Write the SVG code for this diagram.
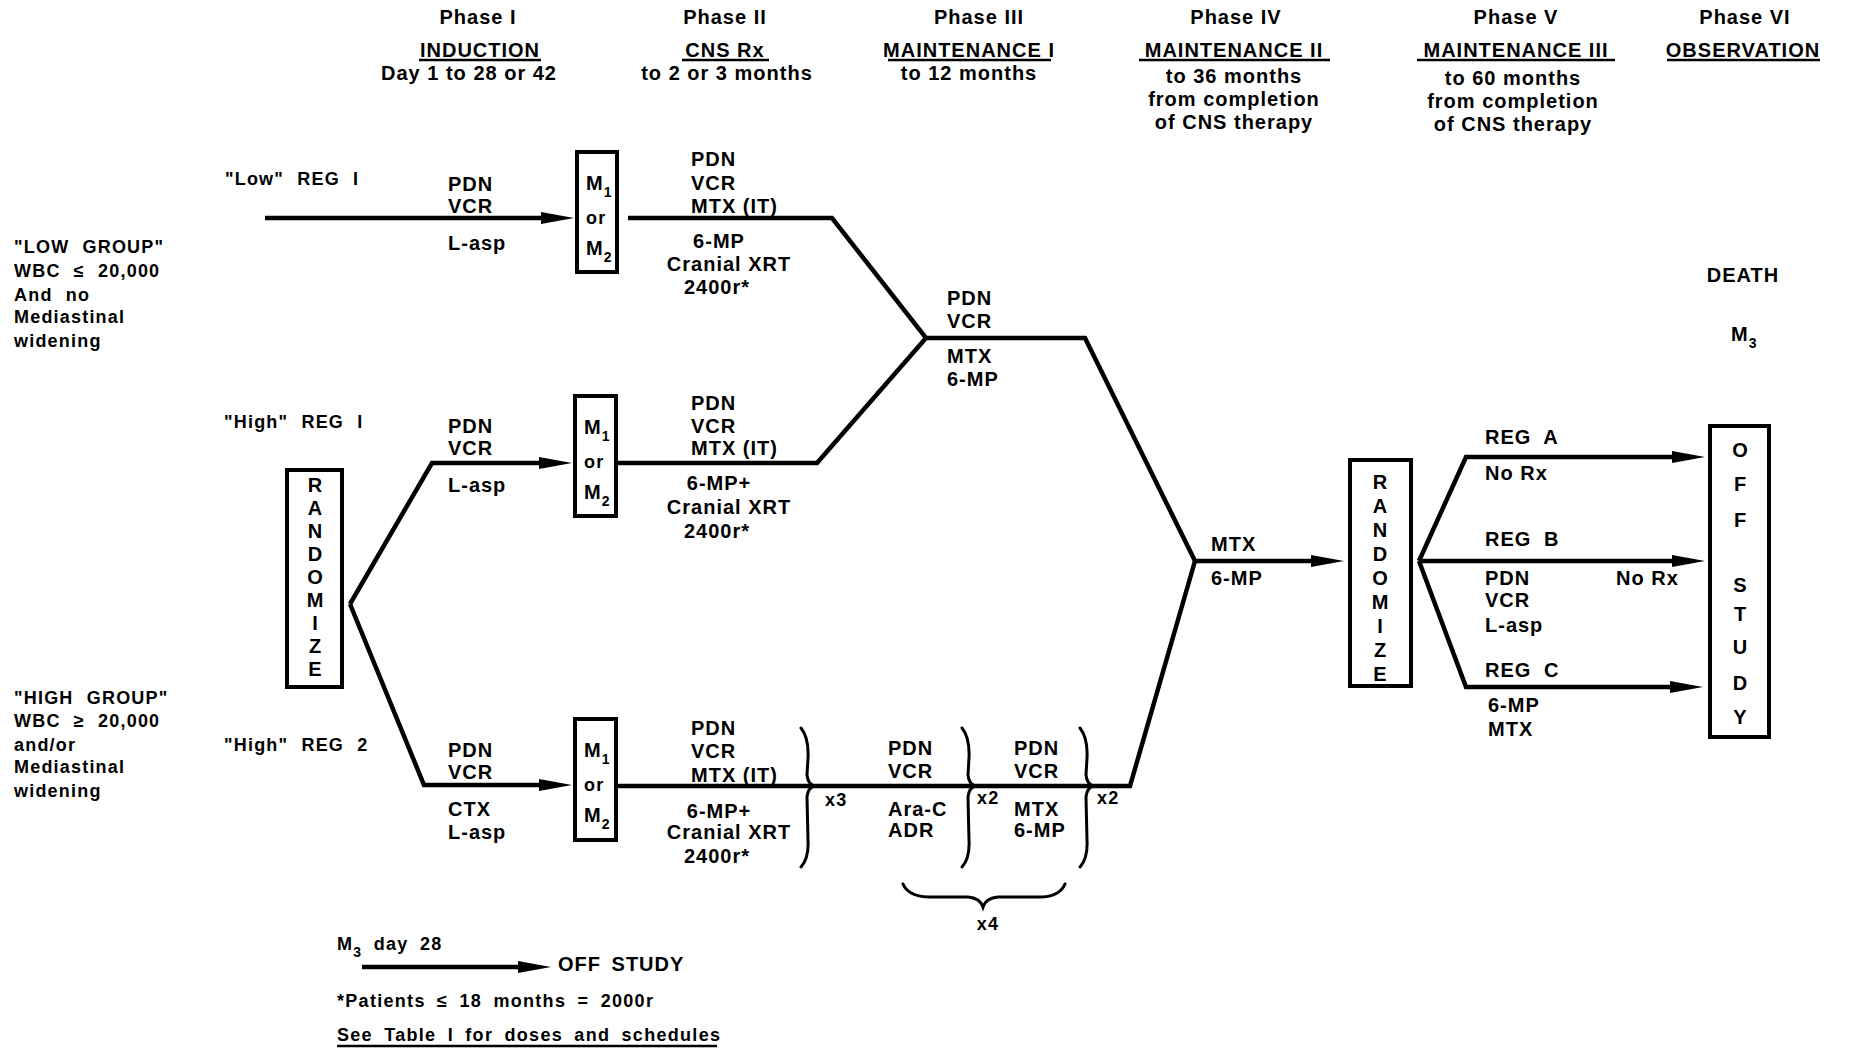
<svg xmlns="http://www.w3.org/2000/svg" width="1849" height="1051" viewBox="0 0 1849 1051">
<defs>
<style>
.t{font-family:"Liberation Sans",Arial,sans-serif;font-size:20px;font-weight:bold;letter-spacing:1px;fill:#000}
.s{font-size:18px;letter-spacing:1.2px;word-spacing:7px}
.f{font-size:18px;letter-spacing:1.3px;word-spacing:5px}
.r{font-size:20px;letter-spacing:0;text-anchor:middle}
.m{text-anchor:middle}
.sub{font-size:14px}
.ln{fill:none;stroke:#000;stroke-width:4.5;stroke-linejoin:miter}
.ul{stroke:#000;stroke-width:2.5}
.br{fill:none;stroke:#000;stroke-width:3;stroke-linecap:round}
.box{fill:#fff;stroke:#000;stroke-width:4}
</style>
<marker id="ah" markerUnits="userSpaceOnUse" markerWidth="34" markerHeight="14" refX="2" refY="7" orient="auto">
<path d="M0,1 L33,7 L0,13 z" fill="#000"/>
</marker>
</defs>
<rect width="1849" height="1051" fill="#fff"/>

<g id="header">
<text class="t m" x="478" y="24">Phase I</text>
<text class="t m" x="480" y="57">INDUCTION</text>
<line class="ul" x1="419" y1="60" x2="541" y2="60"/>
<text class="t m" x="469" y="80">Day 1 to 28 or 42</text>
<text class="t m" x="725" y="24">Phase II</text>
<text class="t m" x="725" y="57">CNS Rx</text>
<line class="ul" x1="682" y1="60" x2="769" y2="60"/>
<text class="t m" x="727" y="80">to 2 or 3 months</text>
<text class="t m" x="979" y="24">Phase III</text>
<text class="t m" x="969" y="57">MAINTENANCE I</text>
<line class="ul" x1="888" y1="60" x2="1051" y2="60"/>
<text class="t m" x="969" y="80">to 12 months</text>
<text class="t m" x="1236" y="24">Phase IV</text>
<text class="t m" x="1234" y="57">MAINTENANCE II</text>
<line class="ul" x1="1139" y1="60" x2="1330" y2="60"/>
<text class="t m" x="1234" y="83">to 36 months</text>
<text class="t m" x="1234" y="106">from completion</text>
<text class="t m" x="1234" y="129">of CNS therapy</text>
<text class="t m" x="1516" y="24">Phase V</text>
<text class="t m" x="1516" y="57">MAINTENANCE III</text>
<line class="ul" x1="1417" y1="60" x2="1615" y2="60"/>
<text class="t m" x="1513" y="85">to 60 months</text>
<text class="t m" x="1513" y="108">from completion</text>
<text class="t m" x="1513" y="131">of CNS therapy</text>
<text class="t m" x="1745" y="24">Phase VI</text>
<text class="t m" x="1743" y="57">OBSERVATION</text>
<line class="ul" x1="1667" y1="60" x2="1820" y2="60"/>
</g>

<g id="low-group">
<text class="t s" x="14" y="253">"LOW GROUP"</text>
<text class="t s" x="14" y="277">WBC ≤ 20,000</text>
<text class="t s" x="14" y="301">And no</text>
<text class="t s" x="14" y="323">Mediastinal</text>
<text class="t s" x="14" y="347">widening</text>
</g>
<g id="high-group">
<text class="t s" x="14" y="704">"HIGH GROUP"</text>
<text class="t s" x="14" y="727">WBC ≥ 20,000</text>
<text class="t s" x="14" y="751">and/or</text>
<text class="t s" x="14" y="773">Mediastinal</text>
<text class="t s" x="14" y="797">widening</text>
</g>

<g id="reg-labels">
<text class="t s" x="225" y="185">"Low" REG I</text>
<text class="t s" x="224" y="428">"High" REG I</text>
<text class="t s" x="224" y="751">"High" REG 2</text>
</g>

<g id="connectors">
<path class="ln" d="M265,218 L543,218" marker-end="url(#ah)"/>
<path class="ln" d="M350,604 L432,463 L541,463" marker-end="url(#ah)"/>
<path class="ln" d="M350,604 L424,785 L541,785" marker-end="url(#ah)"/>
<path class="ln" d="M628,218 L832,218 L926,338 L1085,338 L1195,561"/>
<path class="ln" d="M616,463 L817,463 L926,338"/>
<path class="ln" d="M616,786 L1130,786 L1195,561"/>
<path class="ln" d="M1195,561 L1313,561" marker-end="url(#ah)"/>
<path class="ln" d="M1419,561 L1466,457 L1674,457" marker-end="url(#ah)"/>
<path class="ln" d="M1419,561 L1674,561" marker-end="url(#ah)"/>
<path class="ln" d="M1419,561 L1466,687 L1672,687" marker-end="url(#ah)"/>
<path class="br" d="M801,728 Q809,738 808,758 L807,775 Q808,784 814,786 Q808,788 807,797 L808,840 Q809,858 801,867"/>
<path class="br" d="M962,728 Q970,738 969,758 L968,775 Q969,784 975,786 Q969,788 968,797 L969,840 Q970,858 962,867"/>
<path class="br" d="M1080,728 Q1088,738 1087,758 L1086,775 Q1087,784 1093,786 Q1087,788 1086,797 L1087,840 Q1088,858 1080,867"/>
<path class="br" d="M903,884 Q908,896 928,897 L968,897 Q980,898 983,907 Q986,898 998,897 L1042,897 Q1060,896 1065,884"/>
</g>

<g id="induction-labels">
<text class="t" x="448" y="191">PDN</text>
<text class="t" x="448" y="213">VCR</text>
<text class="t" x="448" y="250">L-asp</text>
<text class="t" x="448" y="433">PDN</text>
<text class="t" x="448" y="455">VCR</text>
<text class="t" x="448" y="492">L-asp</text>
<text class="t" x="448" y="757">PDN</text>
<text class="t" x="448" y="779">VCR</text>
<text class="t" x="448" y="816">CTX</text>
<text class="t" x="448" y="839">L-asp</text>
</g>

<g id="randomize-1">
<rect class="box" x="287" y="470" width="55" height="217"/>
<text class="t r" x="315" y="492">R</text>
<text class="t r" x="315" y="515">A</text>
<text class="t r" x="315" y="538">N</text>
<text class="t r" x="315" y="561">D</text>
<text class="t r" x="315" y="584">O</text>
<text class="t r" x="315" y="607">M</text>
<text class="t r" x="315" y="630">I</text>
<text class="t r" x="315" y="653">Z</text>
<text class="t r" x="315" y="676">E</text>
</g>

<g id="m-box-1">
<rect class="box" x="577" y="152" width="40" height="120"/>
<text class="t" x="586" y="190">M<tspan class="sub" dy="7">1</tspan></text>
<text class="t f" x="586" y="224">or</text>
<text class="t" x="586" y="255">M<tspan class="sub" dy="7">2</tspan></text>
</g>
<g id="m-box-2">
<rect class="box" x="575" y="396" width="41" height="120"/>
<text class="t" x="584" y="434">M<tspan class="sub" dy="7">1</tspan></text>
<text class="t f" x="584" y="468">or</text>
<text class="t" x="584" y="499">M<tspan class="sub" dy="7">2</tspan></text>
</g>
<g id="m-box-3">
<rect class="box" x="575" y="719" width="41" height="121"/>
<text class="t" x="584" y="757">M<tspan class="sub" dy="7">1</tspan></text>
<text class="t f" x="584" y="791">or</text>
<text class="t" x="584" y="822">M<tspan class="sub" dy="7">2</tspan></text>
</g>

<g id="cns-labels">
<text class="t" x="691" y="166">PDN</text>
<text class="t" x="691" y="190">VCR</text>
<text class="t" x="691" y="213">MTX (IT)</text>
<text class="t m" x="719" y="248">6-MP</text>
<text class="t m" x="729" y="271">Cranial XRT</text>
<text class="t m" x="717" y="294">2400r*</text>
<text class="t" x="691" y="410">PDN</text>
<text class="t" x="691" y="433">VCR</text>
<text class="t" x="691" y="455">MTX (IT)</text>
<text class="t m" x="719" y="490">6-MP+</text>
<text class="t m" x="729" y="514">Cranial XRT</text>
<text class="t m" x="717" y="538">2400r*</text>
<text class="t" x="691" y="735">PDN</text>
<text class="t" x="691" y="758">VCR</text>
<text class="t" x="691" y="782">MTX (IT)</text>
<text class="t m" x="719" y="818">6-MP+</text>
<text class="t m" x="729" y="839">Cranial XRT</text>
<text class="t m" x="717" y="863">2400r*</text>
</g>

<g id="maintenance-labels">
<text class="t" x="947" y="305">PDN</text>
<text class="t" x="947" y="328">VCR</text>
<text class="t" x="947" y="363">MTX</text>
<text class="t" x="947" y="386">6-MP</text>
<text class="t" x="888" y="755">PDN</text>
<text class="t" x="888" y="778">VCR</text>
<text class="t" x="888" y="816">Ara-C</text>
<text class="t" x="888" y="837">ADR</text>
<text class="t" x="1014" y="755">PDN</text>
<text class="t" x="1014" y="778">VCR</text>
<text class="t" x="1014" y="816">MTX</text>
<text class="t" x="1014" y="837">6-MP</text>
<text class="t f" x="825" y="806">x3</text>
<text class="t f" x="977" y="804">x2</text>
<text class="t f" x="1097" y="804">x2</text>
<text class="t f m" x="988" y="930">x4</text>
<text class="t" x="1211" y="551">MTX</text>
<text class="t" x="1211" y="585">6-MP</text>
</g>

<g id="randomize-2">
<rect class="box" x="1350" y="460" width="61" height="226"/>
<text class="t r" x="1380" y="489">R</text>
<text class="t r" x="1380" y="513">A</text>
<text class="t r" x="1380" y="537">N</text>
<text class="t r" x="1380" y="561">D</text>
<text class="t r" x="1380" y="585">O</text>
<text class="t r" x="1380" y="609">M</text>
<text class="t r" x="1380" y="633">I</text>
<text class="t r" x="1380" y="657">Z</text>
<text class="t r" x="1380" y="681">E</text>
</g>

<g id="maintenance-3-labels">
<text class="t" x="1485" y="444" word-spacing="6">REG A</text>
<text class="t" x="1485" y="480">No Rx</text>
<text class="t" x="1485" y="546" word-spacing="6">REG B</text>
<text class="t" x="1485" y="585">PDN</text>
<text class="t" x="1485" y="607">VCR</text>
<text class="t" x="1485" y="632">L-asp</text>
<text class="t" x="1616" y="585">No Rx</text>
<text class="t" x="1485" y="677" word-spacing="6">REG C</text>
<text class="t" x="1488" y="712">6-MP</text>
<text class="t" x="1488" y="736">MTX</text>
</g>

<g id="off-study">
<rect class="box" x="1710" y="426" width="59" height="311"/>
<text class="t r" x="1740" y="457">O</text>
<text class="t r" x="1740" y="491">F</text>
<text class="t r" x="1740" y="527">F</text>
<text class="t r" x="1740" y="592">S</text>
<text class="t r" x="1740" y="621">T</text>
<text class="t r" x="1740" y="654">U</text>
<text class="t r" x="1740" y="690">D</text>
<text class="t r" x="1740" y="724">Y</text>
</g>

<g id="observation">
<text class="t m" x="1743" y="282">DEATH</text>
<text class="t" x="1731" y="341">M<tspan class="sub" dy="7">3</tspan></text>
</g>

<g id="legend">
<text class="t f" x="337" y="950">M<tspan class="sub" dy="7">3</tspan><tspan dy="-7"> day 28</tspan></text>
<path class="ln" d="M362,967 L520,967" marker-end="url(#ah)"/>
<text class="t" x="558" y="971" word-spacing="4">OFF STUDY</text>
<text class="t f" x="337" y="1007">*Patients ≤ 18 months = 2000r</text>
<text class="t f" x="337" y="1041">See Table I  for doses and schedules</text>
<line class="ul" x1="337" y1="1046" x2="717" y2="1046"/>
</g>
</svg>
